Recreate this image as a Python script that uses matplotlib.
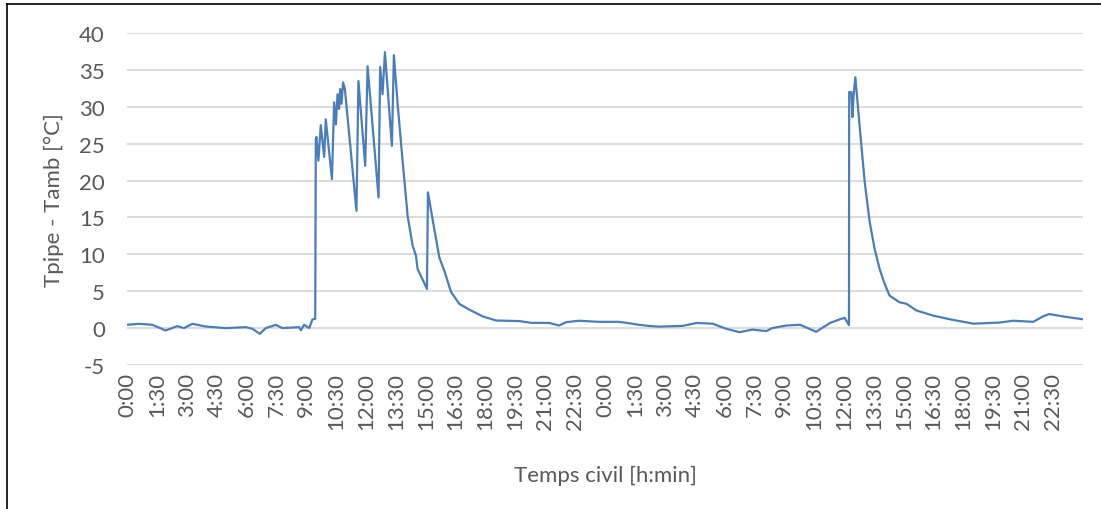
import matplotlib

matplotlib.use("Agg")
from matplotlib import pyplot as plt
from matplotlib.lines import Line2D

# hours since start (two civil days) and temperature difference
hours = [
    0, 0.6, 1.27, 1.94, 2.53, 2.86, 3.28, 3.95, 4.96, 5.96, 6.30, 6.67, 6.97,
    7.47, 7.80, 8.64, 8.73, 8.89, 9.15, 9.31, 9.45, 9.48, 9.51, 9.61, 9.73,
    9.90, 9.98, 10.29, 10.40, 10.49, 10.57, 10.65, 10.70, 10.77, 10.85, 10.94,
    11.52, 11.62, 11.96, 12.08, 12.63, 12.71, 12.83, 12.95, 13.30, 13.40,
    13.6, 13.83, 14.09, 14.34, 14.51, 14.59, 14.84, 15.06, 15.11, 15.34, 15.68,
    15.93, 16.27, 16.68, 17.19, 17.85, 18.53, 19.7, 20.29, 21.2, 21.7, 22.04,
    22.7, 23.7, 24.7, 25.06, 25.7, 26.2, 26.7, 27.9, 28.6, 29.4, 30.1, 30.75,
    31.4, 32.1, 32.4, 33.1, 33.8, 34.6, 35.3, 35.8, 36.03, 36.25, 36.26,
    36.37, 36.42, 36.48, 36.57, 36.78, 37.04, 37.29, 37.54, 37.79, 38.04,
    38.29, 38.79, 39.13, 39.63, 40.47, 41.31, 42.5, 43.8, 44.5, 45.5, 46.0,
    46.3, 47.2, 48.0,
]
delta_t = [
    0.45, 0.58, 0.45, -0.32, 0.27, 0.0, 0.58, 0.22, 0.0, 0.13, -0.1, -0.77,
    0.0, 0.45, 0.0, 0.13, -0.3, 0.45, 0.0, 1.17, 1.26, 25.6, 25.9, 22.7, 27.5,
    23.2, 28.3, 20.2, 30.6, 27.6, 31.7, 29.7, 32.4, 30.4, 33.3, 32.4,
    15.9, 33.5, 22.0, 35.5, 17.7, 35.4, 31.7, 37.4, 24.7, 37.0,
    30.0, 22.9, 15.2, 11.2, 9.8, 8.0, 6.6, 5.3, 18.4, 14.8, 9.6,
    7.8, 4.9, 3.3, 2.5, 1.6, 1.03, 0.95, 0.72, 0.7, 0.35, 0.8,
    1.0, 0.85, 0.85, 0.72, 0.45, 0.3, 0.2, 0.3, 0.7, 0.6, -0.1, -0.55,
    -0.2, -0.4, 0.0, 0.35, 0.45, -0.5, 0.7, 1.2, 1.4, 0.4, 32.0,
    32.0, 28.6, 31.5, 34.0, 27.5, 19.8, 14.4, 10.7, 8.0, 6.0,
    4.4, 3.5, 3.3, 2.4, 1.7, 1.2, 0.6, 0.75, 1.0, 0.85, 1.6,
    1.9, 1.5, 1.2,
]

tick_hours = [i * 1.5 for i in range(32)]
tick_labels = [f"{int(h % 24)}:{int(round((h % 1) * 60)):02d}" for h in tick_hours]

plt.rcParams["font.family"] = ["Lato", "DejaVu Sans"]
plt.rcParams["axes.unicode_minus"] = False
text_color = "#595959"

fig = plt.figure(figsize=(11.01, 5.10), dpi=100)
ax = fig.add_axes([127 / 1101, 1 - 366 / 510, (1083 - 127) / 1101, (366 - 34) / 510])

ax.plot(hours, delta_t, color="#4A7EBB", linewidth=1.6)

ax.set_xlim(0, 48)
ax.set_ylim(-5, 40)
ax.set_yticks(range(-5, 41, 5))
ax.set_xticks(tick_hours)
ax.set_xticklabels(tick_labels, rotation=90)
ax.tick_params(axis="both", length=0, colors=text_color, labelsize=16)
ax.tick_params(axis="y", pad=16)
ax.tick_params(axis="x", pad=5)
ax.yaxis.grid(True, color="#D9D9D9", linewidth=1.3)
ax.set_axisbelow(True)
for spine in ax.spines.values():
    spine.set_visible(False)

ax.set_ylabel("Tpipe - Tamb [°C]", fontsize=16, color=text_color, labelpad=11)
ax.set_xlabel("Temps civil [h:min]", fontsize=16, color=text_color, labelpad=26)

# outer frame, only left and top edges are visible in the reference
fig.add_artist(Line2D([7 / 1101, 7 / 1101], [0, 1 - 5 / 510], color="black", linewidth=1.2))
fig.add_artist(Line2D([7 / 1101, 1], [1 - 5 / 510, 1 - 5 / 510], color="black", linewidth=1.2))

fig.savefig("out.png", dpi=100)
plt.close(fig)
